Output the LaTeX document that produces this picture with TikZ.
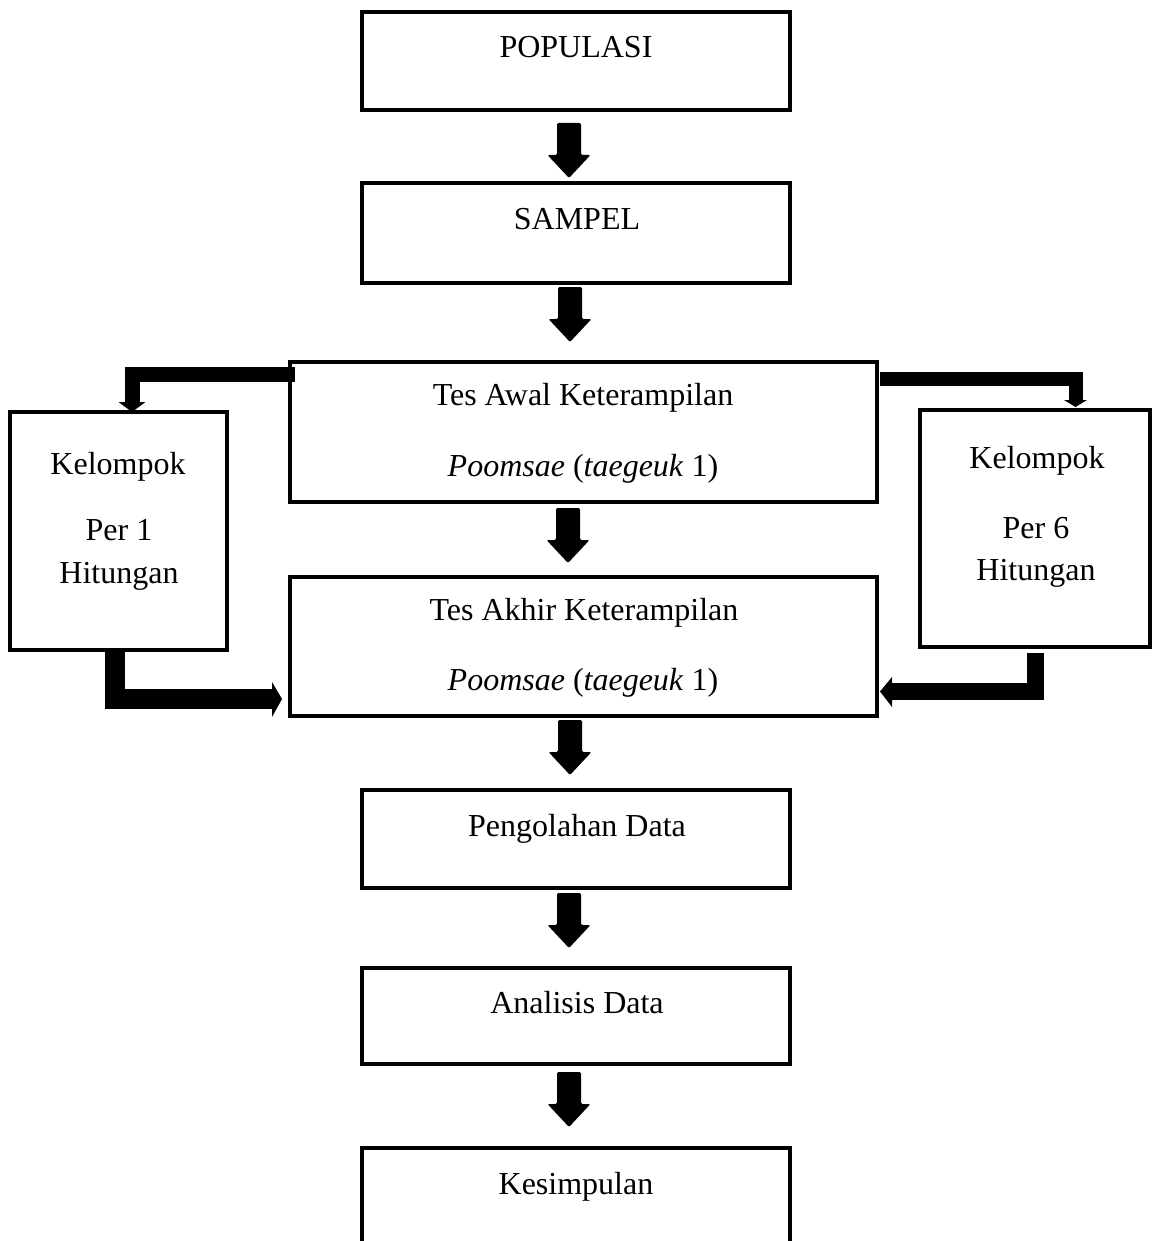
\documentclass[tikz,border=0pt]{standalone}
\usepackage{fontspec}
\setmainfont{Liberation Serif}
\usetikzlibrary{calc}
\newcommand\pxd[1]{#1*0.75pt}
\newcommand\blockdown[1]{\fill[rounded corners=1pt] (#1) ++(-12,0) -- ++(24,0) -- ++(0,32) -- ++(9.5,0) -- ++(-21.5,23) -- ++(-21.5,-23) -- ++(9.5,0) -- cycle;}
\tikzset{
  box/.style={draw, rectangle, line width=3pt, inner sep=0pt, outer sep=0pt},
  txt/.style={anchor=base, inner sep=0pt, font=\fontsize{24}{28.8}\selectfont},
  elbow/.style={draw, line cap=butt, line join=miter},
}
\begin{document}
\begin{tikzpicture}[x=0.75pt,y=-0.75pt]
\useasboundingbox (0,0) rectangle (1160,1241);
% main boxes
\node[box, minimum width=\pxd{428}, minimum height=\pxd{98}] (pop) at (576,61) {};
\node[box, minimum width=\pxd{428}, minimum height=\pxd{100}] (sam) at (576,233) {};
\node[box, minimum width=\pxd{587}, minimum height=\pxd{140}] (ta) at (583.5,432) {};
\node[box, minimum width=\pxd{587}, minimum height=\pxd{139}] (tk) at (583.5,646.5) {};
\node[box, minimum width=\pxd{217}, minimum height=\pxd{238}] (k1) at (118.5,531) {};
\node[box, minimum width=\pxd{230}, minimum height=\pxd{237}] (k2) at (1035,528.5) {};
\node[box, minimum width=\pxd{428}, minimum height=\pxd{98}] (peng) at (576,839) {};
\node[box, minimum width=\pxd{428}, minimum height=\pxd{96}] (ana) at (576,1016) {};
\node[box, minimum width=\pxd{428}, minimum height=\pxd{112}] (kes) at (576,1204) {};
% texts
\node[txt] (tpop) at (576,58) {POPULASI};
\node[txt] (tsam) at (577,230) {SAMPEL};
\node[txt] (ta1) at (583,405) {Tes Awal Keterampilan};
\node[txt] (ta2) at (583,476) {\textit{Poomsae} (\textit{taegeuk} 1)};
\node[txt] (tk1) at (584,620) {Tes Akhir Keterampilan};
\node[txt] (tk2) at (583,690) {\textit{Poomsae} (\textit{taegeuk} 1)};
\node[txt] (k1a) at (118,474) {Kelompok};
\node[txt] (k1b) at (119,540) {Per 1};
\node[txt] (k1c) at (119,583) {Hitungan};
\node[txt] (k2a) at (1037,468) {Kelompok};
\node[txt] (k2b) at (1036,538) {Per 6};
\node[txt] (k2c) at (1036,580) {Hitungan};
\node[txt] (tpeng) at (577,836) {Pengolahan Data};
\node[txt] (tana) at (577,1013) {Analisis Data};
\node[txt] (tkes) at (576,1194) {Kesimpulan};
% down block arrows
\blockdown{$(pop.south)+(-7,13)$}
\blockdown{$(sam.south)+(-6,4)$}
\blockdown{$(ta.south)+(-15.5,6)$}
\blockdown{$(tk.south)+(-13.5,4)$}
\blockdown{$(peng.south)+(-7,5)$}
\blockdown{$(ana.south)+(-7,8)$}
% elbow arrows
\draw[elbow, line width=\pxd{15}] ($(ta.north west)+(5,12.5)$) -| ($(k1.north)+(13.5,-10)$);
\fill ($(k1.north)+(0,-10)$) -- ($(k1.north)+(27,-10)$) -- ($(k1.north)+(13.5,0)$) -- cycle;
\draw[elbow, line width=\pxd{14}] ($(ta.north east)+(3,16.5)$) -| ($(k2.north)+(40.5,-10)$);
\fill ($(k2.north)+(29,-10)$) -- ($(k2.north)+(52,-10)$) -- ($(k2.north)+(40.5,-3)$) -- cycle;
\draw[elbow, line width=\pxd{20}] ($(k1.south)+(-3.5,0)$) |- ($(tk.south west)+(-18,-17)$);
\fill ($(tk.south west)+(-18,-34)$) -- ($(tk.south west)+(-18,1)$) -- ($(tk.south west)+(-8,-17)$) -- cycle;
\draw[elbow, line width=\pxd{17}] ($(k2.south)+(0.5,6)$) |- ($(tk.south east)+(15,-24.5)$);
\fill ($(tk.south east)+(15,-39)$) -- ($(tk.south east)+(15,-9)$) -- ($(tk.south east)+(3,-24.5)$) -- cycle;
\end{tikzpicture}
\end{document}
